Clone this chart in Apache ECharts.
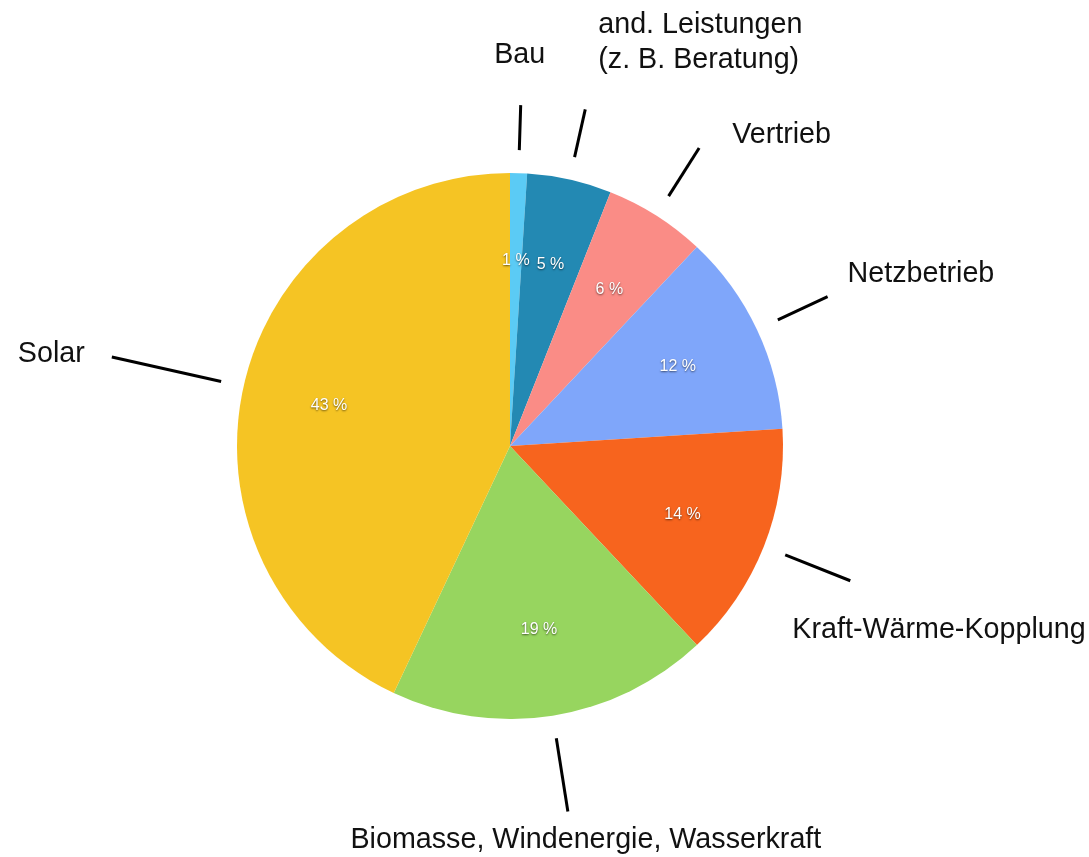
<!DOCTYPE html>
<html><head><meta charset="utf-8">
<script src="https://cdn.jsdelivr.net/npm/echarts@6/dist/echarts.min.js"></script>
<style>html,body{margin:0;padding:0;background:#fff}#c{width:1089px;height:857px}</style>
</head><body><div id="c"></div>
<script>
// ---- data ----
const categories = ['Bau', 'and. Leistungen\n(z. B. Beratung)', 'Vertrieb', 'Netzbetrieb',
  'Kraft-Wärme-Kopplung', 'Biomasse, Windenergie, Wasserkraft', 'Solar'];
const shares = [1, 5, 6, 12, 14, 19, 43];
const percentLabels = ['1 %', '5 %', '6 %', '12 %', '14 %', '19 %', '43 %'];

// ---- styles ----
const colors = ['#5BCBF5', '#2389B3', '#FA8C86', '#7FA6FA', '#F7641E', '#97D55F', '#F5C424'];
const lineLength = [45, 49, 57, 55, 70, 74, 112];
const labelPlace = [
  { dx: -1, dy: -50, align: 'center' },
  { dx: 13, dy: -67, align: 'left' },
  { dx: 33, dy: -13, align: 'left' },
  { dx: 20, dy: -22, align: 'left' },
  { dx: -58, dy: 49, align: 'left' },
  { dx: 18, dy: 29, align: 'center' },
  { dx: -27, dy: -3, align: 'right' }
];
const center = [510, 446];
const R = 273;

const baseData = categories.map((c, i) => ({ name: c, value: shares[i] }));

const chart = echarts.init(document.getElementById('c'), null, { renderer: 'canvas' });
chart.setOption({
  animation: false,
  backgroundColor: '#fff',
  series: [
    {
      type: 'pie', center: center, radius: [0, R], startAngle: 90, clockwise: true,
      silent: true, avoidLabelOverlap: false,
      label: { show: false }, labelLine: { show: false },
      data: baseData.map((d, i) => ({ ...d, itemStyle: { color: colors[i] } }))
    },
    {
      type: 'pie', center: center, radius: [92, R], startAngle: 90, clockwise: true,
      silent: true, avoidLabelOverlap: false,
      itemStyle: { color: 'rgba(0,0,0,0)' },
      label: {
        show: true, position: 'inside',
        formatter: p => percentLabels[p.dataIndex],
        color: '#ffffff', fontFamily: 'Liberation Sans, Arial, sans-serif', fontSize: 16,
        textShadowColor: 'rgba(0,0,0,0.6)', textShadowBlur: 2, textShadowOffsetX: 0, textShadowOffsetY: 1
      },
      labelLine: { show: false },
      data: baseData
    },
    {
      type: 'pie', center: center, radius: [0, 296], startAngle: 90, clockwise: true,
      silent: true, avoidLabelOverlap: false,
      itemStyle: { color: 'rgba(0,0,0,0)' },
      label: {
        show: true, position: 'outside', formatter: '{b}',
        color: '#111', fontFamily: 'Liberation Sans, Arial, Helvetica, sans-serif',
        fontSize: 28.7, lineHeight: 35
      },
      labelLine: { show: true, length2: 0, smooth: false, lineStyle: { color: '#000', width: 3 } },
      labelLayout: function (params) {
        const pts = params.labelLinePoints;
        if (!pts) return {};
        const end = pts[pts.length - 1];
        const p = labelPlace[params.dataIndex];
        return {
          x: end[0] + p.dx, y: end[1] + p.dy,
          align: p.align, verticalAlign: 'middle',
          labelLinePoints: pts
        };
      },
      data: baseData.map((d, i) => ({ ...d, labelLine: { length: lineLength[i], length2: 0 } }))
    }
  ]
});
</script>
</body></html>
